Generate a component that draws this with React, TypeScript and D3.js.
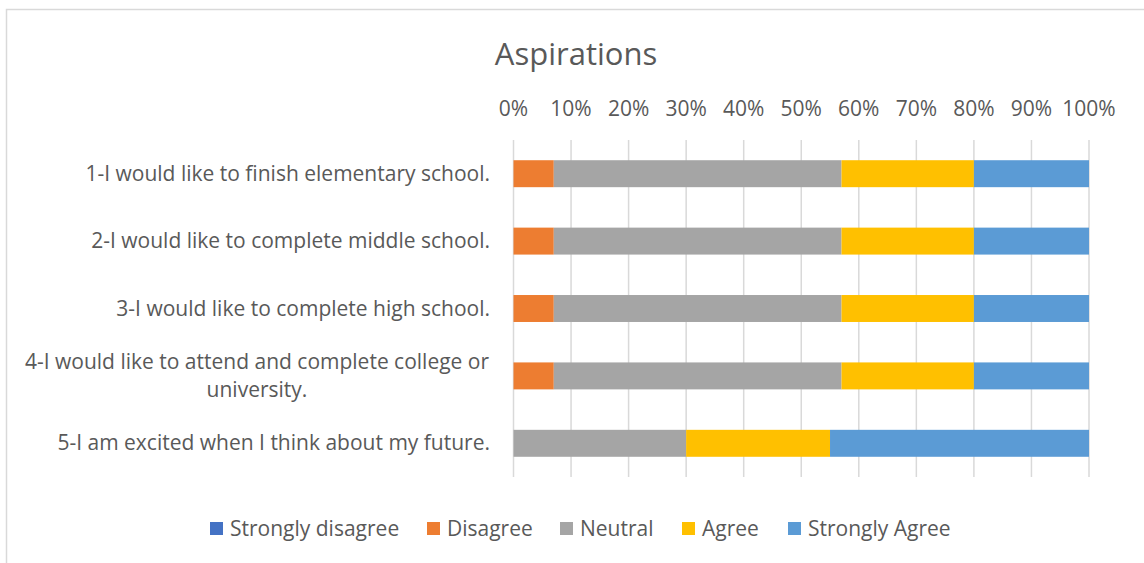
import React from "react";
import * as d3 from "d3";

const title = "Aspirations";
const categories = [
  ["1-I would like to finish elementary school."],
  ["2-I would like to complete middle school."],
  ["3-I would like to complete high school."],
  ["4-I would like to attend and complete college or", "university."],
  ["5-I am excited when I think about my future."],
];
const seriesNames = ["Strongly disagree", "Disagree", "Neutral", "Agree", "Strongly Agree"];
const seriesColors = ["#4472C4", "#ED7D31", "#A5A5A5", "#FFC000", "#5B9BD5"];
const stronglyDisagree = [0, 0, 0, 0, 0];
const disagree = [7, 7, 7, 7, 0];
const neutral = [50, 50, 50, 50, 30];
const agree = [23, 23, 23, 23, 25];
const stronglyAgree = [20, 20, 20, 20, 45];
const tickValues = [0, 0.1, 0.2, 0.3, 0.4, 0.5, 0.6, 0.7, 0.8, 0.9, 1];
const legendX = [210, 427, 560, 682, 788];

const FONT = "'Open Sans', 'Noto Sans', sans-serif";
const TEXT = "#595959";

export default function App() {
  const W = 1144, H = 563;
  const x = d3.scaleLinear().domain([0, 1]).range([513.5, 1089]);
  const y = d3.scaleBand<number>().domain(d3.range(categories.length)).range([140, 477]).paddingInner(0.6).paddingOuter(0.3);
  const rows = categories.map((_, i) => {
    const vals = [stronglyDisagree[i], disagree[i], neutral[i], agree[i], stronglyAgree[i]];
    const total = d3.sum(vals);
    let acc = 0;
    return vals.map((v, k) => {
      const s = acc / total;
      acc += v;
      return { k, x0: s, x1: acc / total };
    });
  });
  const fmt = d3.format(".0%");
  return (
    <svg width={W} height={H} style={{ position: "absolute", left: 0, top: 0, fontFamily: FONT }}>
      <rect x={0} y={0} width={W} height={H} fill="#fff" />
      <rect x={6.5} y={9.5} width={1200} height={700} fill="#fff" stroke="#d9d9d9" strokeWidth={1.5} />
      <text x={576} y={65} textAnchor="middle" fontSize={31} fill={TEXT}>{title}</text>
      {tickValues.map((t) => (
        <g key={t}>
          <line x1={x(t)} x2={x(t)} y1={140} y2={477} stroke="#d9d9d9" strokeWidth={1.5} />
          <text x={x(t)} y={116} textAnchor="middle" fontSize={21} fill={TEXT}>{fmt(t)}</text>
        </g>
      ))}
      {rows.map((segs, i) =>
        segs.filter((s) => s.x1 > s.x0).map((s) => (
          <rect key={i + "-" + s.k} x={x(s.x0)} y={y(i)!} width={x(s.x1) - x(s.x0)} height={y.bandwidth()} fill={seriesColors[s.k]} />
        ))
      )}
      {categories.map((lines, i) => {
        const cy = y(i)! + y.bandwidth() / 2;
        const lh = 28;
        if (lines.length === 1) {
          return <text key={i} x={490} y={cy + 7} textAnchor="end" fontSize={21} fill={TEXT}>{lines[0]}</text>;
        }
        return (
          <text key={i} x={257} textAnchor="middle" fontSize={21} fill={TEXT}>
            {lines.map((l, j) => (
              <tspan key={j} x={257} y={cy + 7 + (j - (lines.length - 1) / 2) * lh}>{l}</tspan>
            ))}
          </text>
        );
      })}
      {seriesNames.map((n, k) => (
        <g key={n}>
          <rect x={legendX[k]} y={522} width={13} height={13} fill={seriesColors[k]} />
          <text x={legendX[k] + 20} y={536} fontSize={21} fill={TEXT}>{n}</text>
        </g>
      ))}
    </svg>
  );
}
